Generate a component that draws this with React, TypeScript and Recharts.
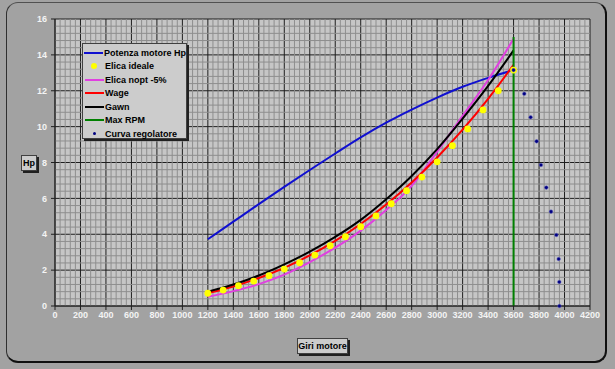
import React from "react";
import {
  ComposedChart,
  Line,
  XAxis,
  YAxis,
  CartesianGrid,
  ReferenceLine,
} from "recharts";

// rpm values where the smooth curves were read
const rpmCurve = [1200, 1400, 1600, 1800, 2000, 2200, 2400, 2600, 2800, 3000, 3200, 3400, 3600];
const potenzaMotore = [3.72, 4.7, 5.68, 6.64, 7.58, 8.5, 9.4, 10.22, 10.95, 11.62, 12.22, 12.72, 13.15];
const elicaNopt = [0.52, 0.83, 1.22, 1.75, 2.45, 3.25, 4.2, 5.35, 6.7, 8.6, 10.6, 12.6, 14.9];
const wage = [0.72, 1.09, 1.56, 2.13, 2.82, 3.63, 4.57, 5.66, 6.89, 8.28, 9.83, 11.55, 13.45];
const gawn = [0.8, 1.2, 1.7, 2.32, 3.03, 3.85, 4.8, 5.95, 7.25, 8.75, 10.45, 12.27, 14.25];

// Elica ideale markers
const rpmIdeale = [
  1200, 1320, 1440, 1560, 1680, 1800, 1920, 2040, 2160, 2280, 2400,
  2520, 2640, 2760, 2880, 3000, 3120, 3240, 3360, 3480, 3600,
];
const elicaIdeale = [
  0.71, 0.89, 1.13, 1.39, 1.69, 2.06, 2.41, 2.84, 3.36, 3.86, 4.42,
  5.02, 5.7, 6.43, 7.19, 8.04, 8.94, 9.87, 10.93, 12.0, 13.15,
];

// Max RPM vertical
const maxRpmX = [3600, 3600];
const maxRpmY = [0, 15];

// Curva regolatore
const regolatoreRpm = [3600, 3684, 3734, 3781, 3815, 3857, 3894, 3936, 3954, 3959, 3960];
const regolatoreHp = [13.15, 11.83, 10.52, 9.18, 7.86, 6.6, 5.26, 3.96, 2.62, 1.34, 0];

const xTicks = Array.from({ length: 22 }, (_, i) => i * 200);
const yTicks = [0, 2, 4, 6, 8, 10, 12, 14, 16];
// minor grid: every 40 rpm and every 0.4 Hp
const xMinor = Array.from({ length: 105 }, (_, i) => i * 40).filter((v) => v % 200 !== 0);
const yMinor = Array.from({ length: 40 }, (_, i) => i * 4).filter((v) => v % 20 !== 0).map((v) => v / 10);

const curveData = rpmCurve.map((x, i) => ({
  x,
  potenza: potenzaMotore[i],
  nopt: elicaNopt[i],
  wage: wage[i],
  gawn: gawn[i],
}));
const idealeData = rpmIdeale.map((x, i) => ({ x, y: elicaIdeale[i] }));
const maxRpmData = maxRpmX.map((x, i) => ({ x, y: maxRpmY[i] }));
const regolatoreData = regolatoreRpm.map((x, i) => ({ x, y: regolatoreHp[i] }));

const legendItems = [
  { name: "Potenza motore Hp", color: "#1010d0", kind: "line" },
  { name: "Elica ideale", color: "#ffff00", kind: "dot" },
  { name: "Elica nopt -5%", color: "#e040e0", kind: "line" },
  { name: "Wage", color: "#ff0000", kind: "line" },
  { name: "Gawn", color: "#000000", kind: "line" },
  { name: "Max RPM", color: "#008000", kind: "line" },
  { name: "Curva regolatore", color: "#000080", kind: "small" },
];

const tickStyle = { fontSize: 9, fontWeight: 700, fill: "#f4f4f4", fontFamily: "Liberation Sans, Arial, sans-serif" };

const boxStyle: React.CSSProperties = {
  position: "absolute",
  background: "#cccccc",
  border: "1px solid #404040",
  boxShadow: "2px 2px 0 #202020",
  fontFamily: "Liberation Sans, Arial, sans-serif",
  fontWeight: 700,
  fontSize: 9,
  color: "#000",
};

const minorStroke = "#8e8e8e";

export default function App() {
  return (
    <div
      style={{
        position: "absolute",
        left: 0,
        top: 0,
        width: 615,
        height: 369,
        background: "#a2a2a2",
        overflow: "hidden",
      }}
    >
      <div
        style={{
          position: "absolute",
          left: 6,
          top: 2,
          width: 598,
          height: 358,
          borderRadius: 12,
          borderTop: "1px solid #505050",
          borderLeft: "1px solid #303030",
          borderRight: "2px solid #101010",
          borderBottom: "2px solid #101010",
        }}
      />
      <ComposedChart
        width={615}
        height={369}
        margin={{ top: 19, right: 25, bottom: 33, left: 0 }}
        style={{ position: "absolute", left: 0, top: 0 }}
      >
        <CartesianGrid stroke="#1e1e1e" strokeWidth={1} fill="#c6c6c6" />
        <XAxis
          type="number"
          dataKey="x"
          domain={[0, 4200]}
          ticks={xTicks}
          interval={0}
          height={30}
          tick={tickStyle}
          tickLine={{ stroke: "#202020" }}
          axisLine={{ stroke: "#202020" }}
          tickSize={4}
        />
        <YAxis
          type="number"
          domain={[0, 16]}
          ticks={yTicks}
          interval={0}
          width={55}
          tick={tickStyle}
          tickLine={{ stroke: "#202020" }}
          axisLine={{ stroke: "#202020" }}
          tickSize={4}
          tickMargin={4}
        />
        {xMinor.map((v) => (
          <ReferenceLine key={`vx${v}`} x={v} stroke={minorStroke} strokeWidth={1} zIndex={-50} />
        ))}
        {yMinor.map((v) => (
          <ReferenceLine key={`hy${v}`} y={v} stroke={minorStroke} strokeWidth={1} zIndex={-50} />
        ))}
        <Line data={curveData} dataKey="potenza" type="monotone" stroke="#1010d0" strokeWidth={2} dot={false} isAnimationActive={false} />
        <Line data={curveData} dataKey="nopt" type="monotone" stroke="#e040e0" strokeWidth={2} dot={false} isAnimationActive={false} />
        <Line data={curveData} dataKey="wage" type="monotone" stroke="#ff0000" strokeWidth={2} dot={false} isAnimationActive={false} />
        <Line data={curveData} dataKey="gawn" type="monotone" stroke="#000000" strokeWidth={2} dot={false} isAnimationActive={false} />
        <Line data={maxRpmData} dataKey="y" stroke="#008000" strokeWidth={2} dot={false} isAnimationActive={false} />
        <Line
          data={idealeData}
          dataKey="y"
          stroke="none"
          dot={{ r: 3.4, fill: "#ffff00", stroke: "none" }}
          isAnimationActive={false}
        />
        <Line
          data={regolatoreData}
          dataKey="y"
          stroke="none"
          dot={{ r: 1.8, fill: "#000080", stroke: "#6060c0", strokeWidth: 0.5 }}
          isAnimationActive={false}
        />
      </ComposedChart>

      <div style={{ ...boxStyle, left: 82, top: 43, width: 103, height: 94, padding: 0 }}>
        {legendItems.map((it, i) => (
          <div
            key={it.name}
            style={{ position: "absolute", left: 0, top: 2 + i * 13.5, height: 13, width: 103, display: "flex", alignItems: "center" }}
          >
            <div style={{ width: 22, display: "flex", justifyContent: "center", alignItems: "center" }}>
              {it.kind === "line" && <div style={{ width: 19, height: 2, background: it.color, marginLeft: 1 }} />}
              {it.kind === "dot" && <div style={{ width: 6, height: 6, borderRadius: 3, background: it.color }} />}
              {it.kind === "small" && <div style={{ width: 3, height: 3, borderRadius: 2, background: it.color }} />}
            </div>
            <span style={{ whiteSpace: "nowrap" }}>{it.name}</span>
          </div>
        ))}
      </div>

      <div style={{ ...boxStyle, left: 21, top: 155, width: 14, height: 14, lineHeight: "14px", textAlign: "center" }}>Hp</div>
      <div style={{ ...boxStyle, left: 297, top: 338, width: 49, height: 14, lineHeight: "14px", textAlign: "center" }}>Giri motore</div>
    </div>
  );
}
